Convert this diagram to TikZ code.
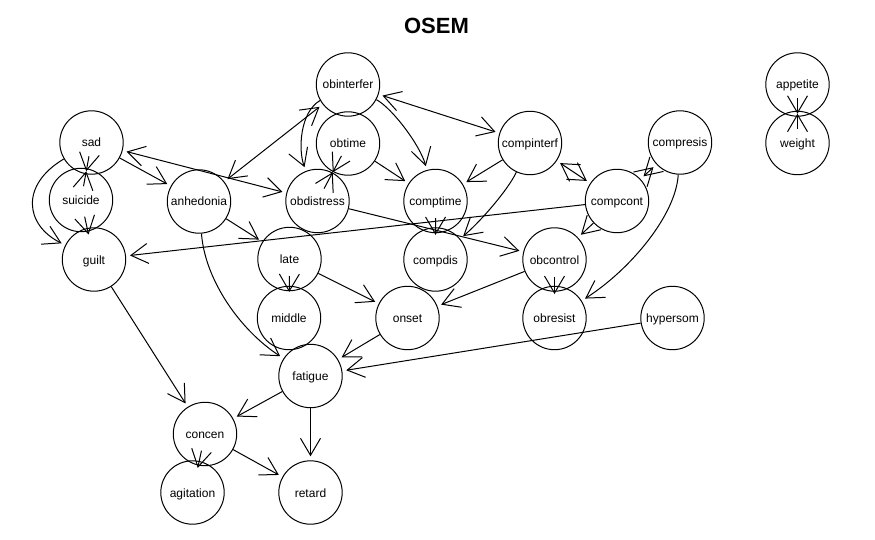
\documentclass[tikz,border=0pt]{standalone}
\usepackage{fontspec}
\setmainfont{Liberation Sans}
\usetikzlibrary{arrows.meta,calc}
\begin{document}
\begin{tikzpicture}[x=1pt,y=-1pt,
  vnode/.style={circle,draw,line width=1pt,minimum size=63.4pt,inner sep=0pt,
    font=\fontsize{12}{14}\selectfont,text height=9pt,text depth=0pt},
  tip/.style={Straight Barb[length=17pt,width=20pt]},
  arr/.style={line width=1pt,-{Straight Barb[length=17pt,width=20pt]},shorten >=4pt},
  barr/.style={line width=1pt,{Straight Barb[length=17pt,width=20pt]}-{Straight Barb[length=17pt,width=20pt]},shorten >=4pt,shorten <=4pt},
  ovl/.style={line width=1pt,-{Straight Barb[length=17pt,width=20pt]},shorten <=17pt},
  ovlb/.style={line width=1pt,-{Straight Barb[length=17pt,width=20pt]},shorten <=14pt},
  ]
\useasboundingbox (0,0) rectangle (875,540);

\node[font=\bfseries\fontsize{22}{26}\selectfont,anchor=base] (title) at (436.5,33.3) {OSEM};

% nodes
\node[vnode] (sad) at (91.5,142.5) {sad};
\node[vnode] (suicide) at (81,200) {suicide};
\node[vnode] (guilt) at (94,259.5) {guilt};
\node[vnode] (anhedonia) at (199,201.5) {anhedonia};
\node[vnode] (obinterfer) at (348,84.5) {obinterfer};
\node[vnode] (obtime) at (348,143.5) {obtime};
\node[vnode] (obdistress) at (317.5,201) {obdistress};
\node[vnode] (comptime) at (435.5,201) {comptime};
\node[vnode] (compdis) at (435.5,259.5) {compdis};
\node[vnode] (compinterf) at (530,143) {compinterf};
\node[vnode] (compresis) at (680,142.5) {compresis};
\node[vnode] (compcont) at (617,201) {compcont};
\node[vnode] (obcontrol) at (554.5,259.5) {obcontrol};
\node[vnode] (obresist) at (554.5,318) {obresist};
\node[vnode] (hypersom) at (672.5,318) {hypersom};
\node[vnode] (late) at (289.5,259) {late};
\node[vnode] (middle) at (289,318) {middle};
\node[vnode] (onset) at (407.5,318) {onset};
\node[vnode] (fatigue) at (310.5,376) {fatigue};
\node[vnode] (concen) at (205,434) {concen};
\node[vnode] (agitation) at (192.5,492.5) {agitation};
\node[vnode] (retard) at (310.5,492.5) {retard};
\node[vnode] (appetite) at (797.5,84.5) {appetite};
\node[vnode] (weight) at (797.5,143) {weight};

% directed straight edges
\draw[arr] (sad) -- (anhedonia);
\draw[arr] (anhedonia) -- (late);
\draw[arr] (late) -- (onset);
\draw[arr] (onset) -- (fatigue);
\draw[arr] (obcontrol) -- (onset);
\draw[arr] (obdistress) -- (obcontrol);
\draw[arr] (obtime) -- (comptime);
\draw[arr] (compinterf) -- (comptime);
\draw[arr] (compcont) -- (obcontrol);
\draw[arr] (compcont) -- (guilt);
\draw[arr] (hypersom) -- (fatigue);
\draw[arr] (fatigue) -- (concen);
\draw[arr] (fatigue) -- (retard);
\draw[arr] (guilt) -- (concen);
\draw[arr] (concen) -- (retard);

% curved directed edges
\draw[arr] (sad) .. controls (20,185) and (25,225) .. (guilt);
\draw[arr] (obinterfer) .. controls (300,112) and (298,150) .. (obdistress);
\draw[arr] (obinterfer) .. controls (392,108) and (420,145) .. (comptime);
\draw[arr] (compinterf) .. controls (508,190) and (480,222) .. (compdis);
\draw[arr] (anhedonia) .. controls (205,280) and (240,330) .. (fatigue);
\draw[arr] (compresis) .. controls (676,215) and (630,270) .. (obresist);

% bidirected edges
\draw[barr] (sad) -- (obdistress);
\draw[barr] (anhedonia) -- (obinterfer);
\draw[barr] (obinterfer) -- (compinterf);
\draw[barr] (compinterf) -- (compcont);
\draw[barr] (compresis) -- (compcont);

% edges between overlapping nodes
\draw[ovl] (comptime.center) -- ($(comptime.center)!0.58!(compdis.center)$);
\draw[ovl] (late.center) -- ($(late.center)!0.56!(middle.center)$);
\draw[ovl] (obcontrol.center) -- ($(obcontrol.center)!0.59!(obresist.center)$);
\draw[ovl] (concen.center) -- ($(concen.center)!0.58!(agitation.center)$);
\draw[ovl] (suicide.center) -- ($(suicide.center)!0.58!(guilt.center)$);

\draw[ovlb] (sad.center) -- ($(sad.center)!0.5!(suicide.center)$);
\draw[ovlb] (suicide.center) -- ($(suicide.center)!0.5!(sad.center)$);
\draw[ovlb] (obtime.center) -- ($(obtime.center)!0.5!(obdistress.center)$);
\draw[ovlb] (obdistress.center) -- ($(obdistress.center)!0.5!(obtime.center)$);
\draw[ovlb] (appetite.center) -- ($(appetite.center)!0.5!(weight.center)$);
\draw[ovlb] (weight.center) -- ($(weight.center)!0.5!(appetite.center)$);
\end{tikzpicture}
\end{document}
